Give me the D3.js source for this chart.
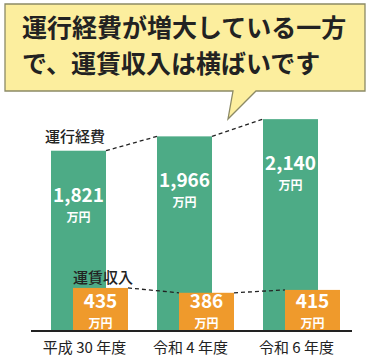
<!DOCTYPE html>
<html>
<head>
<meta charset="utf-8">
<script src="https://cdn.jsdelivr.net/npm/d3@7"></script>
<style>
  body { margin: 0; background: #fff; }
  svg { display: block; font-family: "Noto Sans CJK JP", "Noto Sans", sans-serif; }
</style>
</head>
<body>
<div id="chart"></div>
<script>
    //data
    var years = ['平成 30 年度', '令和 4 年度', '令和 6 年度'];
    var costs = [1821, 1966, 2140];
    var revenue = [435, 386, 415];
    var calloutLines = ['運行経費が増大している一方', 'で、運賃収入は横ばいです'];

    //Colours
    var $green = '#4dab86';
    var $orange = '#ef9a2c';
    var $yellow = '#fcee9e';
    var $ink = '#222';

    var width = 368;
    var height = 360;
    var baseY = 331;
    var barW = 55;
    var offset = 22;

    var svg = d3.select('#chart').append('svg')
        .attr('width', width)
        .attr('height', height);

    //scales
    var x = d3.scaleBand()
        .domain(years)
        .range([36.5, 354.5])
        .paddingInner(0.2736)
        .paddingOuter(0.1368);

    var y = d3.scaleLinear()
        .domain([0, 2200])
        .range([baseY, baseY - 2200 * 0.099]);

    //callout bubble
    svg.append('path')
        .attr('d', 'M5,4 H365 V91 H256 L228,119 L233,91 H5 Z')
        .attr('fill', $yellow)
        .attr('stroke', '#8c8a66')
        .attr('stroke-width', 1.3);

    svg.selectAll('text.callout')
        .data(calloutLines)
        .enter().append('text')
        .attr('class', 'callout')
        .attr('x', 22)
        .attr('y', function(d, i) { return 37 + i * 36; })
        .attr('font-size', 25)
        .attr('font-weight', 700)
        .attr('fill', $ink)
        .text(function(d) { return d; });

    //cost bars
    svg.selectAll('rect.cost')
        .data(costs)
        .enter().append('rect')
        .attr('class', 'cost')
        .attr('x', function(d, i) { return x(years[i]); })
        .attr('y', function(d) { return y(d); })
        .attr('width', barW)
        .attr('height', function(d) { return baseY - y(d); })
        .attr('fill', $green);

    //revenue bars
    svg.selectAll('rect.rev')
        .data(revenue)
        .enter().append('rect')
        .attr('class', 'rev')
        .attr('x', function(d, i) { return x(years[i]) + offset; })
        .attr('y', function(d) { return y(d); })
        .attr('width', barW)
        .attr('height', function(d) { return baseY - y(d); })
        .attr('fill', $orange);

    //dashed connectors
    function connectors(values, dx, cls) {
        var segs = d3.range(values.length - 1).map(function(i) {
            return [
                [x(years[i]) + dx + barW, y(values[i])],
                [x(years[i + 1]) + dx, y(values[i + 1])]
            ];
        });
        svg.selectAll('line.' + cls)
            .data(segs)
            .enter().append('line')
            .attr('class', cls)
            .attr('x1', function(d) { return d[0][0]; })
            .attr('y1', function(d) { return d[0][1]; })
            .attr('x2', function(d) { return d[1][0]; })
            .attr('y2', function(d) { return d[1][1]; })
            .attr('stroke', $ink)
            .attr('stroke-width', 1.3)
            .attr('stroke-dasharray', '4,3');
    }
    connectors(costs, 0, 'costLine');
    connectors(revenue, offset, 'revLine');

    //value labels
    var fmt = d3.format(',');
    function valueLabels(values, dx, numY, cls) {
        var g = svg.selectAll('g.' + cls)
            .data(values)
            .enter().append('g')
            .attr('class', cls)
            .attr('transform', function(d, i) {
                return 'translate(' + (x(years[i]) + dx + barW / 2) + ',' + numY(d) + ')';
            })
            .attr('text-anchor', 'middle')
            .attr('fill', '#fff')
            .attr('font-weight', 700);
        g.append('text')
            .attr('font-size', 19)
            .text(function(d) { return fmt(d); });
        g.append('text')
            .attr('y', 20)
            .attr('font-size', 12)
            .text('万円');
    }
    valueLabels(costs, 0, function(d) { return y(d) + 51; }, 'costLbl');
    valueLabels(revenue, offset, function() { return baseY - 23; }, 'revLbl');

    //series names
    svg.append('text')
        .attr('x', x(years[0]) - 6)
        .attr('y', y(costs[0]) - 9)
        .attr('font-size', 15)
        .attr('font-weight', 500)
        .attr('fill', $ink)
        .text('運行経費');

    svg.append('text')
        .attr('x', x(years[0]) + offset)
        .attr('y', y(revenue[0]) - 5)
        .attr('font-size', 15)
        .attr('font-weight', 500)
        .attr('fill', $ink)
        .text('運賃収入');

    //x axis
    var axis = svg.append('g')
        .attr('transform', 'translate(0,' + baseY + ')')
        .call(d3.axisBottom(x).tickSize(0).tickPadding(11));

    axis.select('.domain')
        .attr('d', 'M31,0 H352')
        .attr('stroke', $ink)
        .attr('stroke-width', 2);

    axis.selectAll('text')
        .attr('dx', -5)
        .attr('font-size', 15)
        .attr('font-family', '"Noto Sans CJK JP", sans-serif')
        .attr('fill', $ink);
</script>
</body>
</html>
